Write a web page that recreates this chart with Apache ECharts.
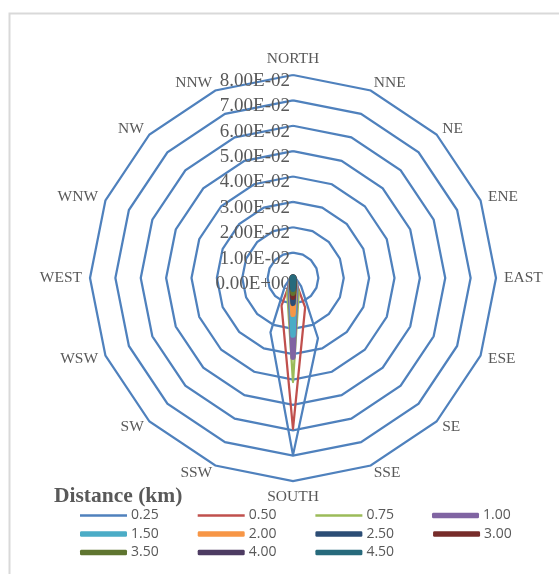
<!DOCTYPE html>
<html>
<head>
<meta charset="utf-8">
<script src="https://cdn.jsdelivr.net/npm/echarts@6/dist/echarts.min.js"></script>
<style>
html,body{margin:0;padding:0;background:#fff;}
#chart{width:559px;height:574px;}
</style>
</head>
<body>
<div id="chart"></div>
<script>
// Directions, clockwise from north
const directions = ['NORTH','NNE','NE','ENE','EAST','ESE','SE','SSE','SOUTH','SSW','SW','WSW','WEST','WNW','NW','NNW'];
// Radial tick values
const tickValues = [0, 0.01, 0.02, 0.03, 0.04, 0.05, 0.06, 0.07, 0.08];
// Distance (km) series names
const distances = ['0.25','0.50','0.75','1.00','1.50','2.00','2.50','3.00','3.50','4.00','4.50'];
// Values per distance (clockwise from NORTH)
const d025 = [0.0010,0.0008,0.0008,0.0008,0.0010,0.0015,0.0045,0.0257,0.0698,0.0232,0.0045,0.0015,0.0010,0.0008,0.0008,0.0008];
const d050 = [0.0005,0.0005,0.0005,0.0005,0.0005,0.0008,0.0012,0.0125,0.0595,0.0118,0.0012,0.0008,0.0005,0.0005,0.0005,0.0005];
const d075 = [0.0004,0.0004,0.0004,0.0004,0.0004,0.0005,0.0008,0.0060,0.0410,0.0060,0.0008,0.0005,0.0004,0.0004,0.0004,0.0004];
const d100 = [0.0003,0.0003,0.0003,0.0003,0.0003,0.0004,0.0006,0.0030,0.0312,0.0030,0.0006,0.0004,0.0003,0.0003,0.0003,0.0003];
const d150 = [0.0003,0.0003,0.0003,0.0003,0.0003,0.0003,0.0005,0.0022,0.0225,0.0022,0.0005,0.0003,0.0003,0.0003,0.0003,0.0003];
const d200 = [0.0003,0.0003,0.0003,0.0003,0.0003,0.0003,0.0004,0.0018,0.0143,0.0018,0.0004,0.0003,0.0003,0.0003,0.0003,0.0003];
const d250 = [0.0003,0.0003,0.0003,0.0003,0.0003,0.0003,0.0004,0.0015,0.0100,0.0015,0.0004,0.0003,0.0003,0.0003,0.0003,0.0003];
const d300 = [0.0003,0.0003,0.0003,0.0003,0.0003,0.0003,0.0004,0.0012,0.0076,0.0012,0.0004,0.0003,0.0003,0.0003,0.0003,0.0003];
const d350 = [0.0003,0.0003,0.0003,0.0003,0.0003,0.0003,0.0003,0.0010,0.0060,0.0010,0.0003,0.0003,0.0003,0.0003,0.0003,0.0003];
const d400 = [0.0003,0.0003,0.0003,0.0003,0.0003,0.0003,0.0003,0.0009,0.0042,0.0009,0.0003,0.0003,0.0003,0.0003,0.0003,0.0003];
const d450 = [0.0003,0.0003,0.0003,0.0003,0.0003,0.0003,0.0003,0.0008,0.0044,0.0008,0.0003,0.0003,0.0003,0.0003,0.0003,0.0003];
const seriesValues = [d025,d050,d075,d100,d150,d200,d250,d300,d350,d400,d450];

const colors = ['#4F81BD','#C0504D','#9BBB59','#8064A2','#4BACC6','#F79646','#2C4D75','#772C2A','#5F7530','#4D3B62','#276A7C'];
const thin = [true,true,true,false,false,false,false,false,false,false,false];

// ECharts radar places indicators counter-clockwise; reorder to get clockwise
const order = [0].concat(directions.map((d,i)=>i).slice(1).reverse());

function fmt(v){
  if (v === 0) return '0.00E+00';
  let e = Math.floor(Math.log10(Math.abs(v)) + 1e-9);
  let m = v / Math.pow(10, e);
  let s = e < 0 ? '-' : '+';
  let ae = Math.abs(e);
  return m.toFixed(2) + 'E' + s + (ae < 10 ? '0' + ae : ae);
}

const labelColor = '#595959';
const serif = '"Liberation Serif", "DejaVu Serif", serif';
const sans = '"Open Sans", "Liberation Sans", sans-serif';

const indicator = order.map((idx, k) => {
  const o = { name: directions[idx], min: tickValues[0], max: tickValues[tickValues.length-1] };
  if (k === 0) {
    o.axisLabel = { show: true };
  }
  return o;
});

const series = distances.map((d, i) => ({
  type: 'radar',
  name: d,
  symbol: 'none',
  silent: true,
  z: 2 + i,
  lineStyle: { color: colors[i], width: thin[i] ? 2.25 : 5.5, cap: 'round', join: 'round' },
  itemStyle: { color: colors[i] },
  data: [{ name: d, value: order.map(idx => seriesValues[i][idx]) }]
}));

function legendBlock(names, left, top, isThin) {
  return {
    orient: 'horizontal',
    left: left, top: top,
    padding: 0,
    itemWidth: 47,
    itemHeight: isThin ? 2.5 : 5.5,
    itemGap: 39,
    icon: isThin ? 'rect' : 'roundRect',
    selectedMode: false,
    textStyle: { color: labelColor, fontFamily: sans, fontSize: 14, padding: [0,0,0,-1] },
    data: names
  };
}

const option = {
  animation: false,
  backgroundColor: '#ffffff',
  graphic: [
    { type: 'rect', shape: { x: 9.5, y: 13.5, width: 600, height: 640 }, style: { fill: 'none', stroke: '#D9D9D9', lineWidth: 2 }, silent: true }
  ],
  title: {
    text: 'Distance (km)',
    left: 54, top: 485,
    padding: 0,
    textStyle: { color: labelColor, fontFamily: serif, fontSize: 21.5, fontWeight: 'bold' }
  },
  legend: [
    legendBlock(['0.25','0.50','0.75'], 80, 508.5, true),
    legendBlock(['1.00'], 432, 508.5, false),
    legendBlock(['1.50','2.00','2.50','3.00'], 80, 527, false),
    legendBlock(['3.50','4.00','4.50'], 80, 545.5, false)
  ],
  radar: {
    center: [293, 278],
    radius: 203,
    startAngle: 90,
    shape: 'polygon',
    splitNumber: tickValues.length - 1,
    indicator: indicator,
    axisName: { color: labelColor, fontFamily: serif, fontSize: 15.5 },
    nameGap: 8,
    axisLine: { show: false },
    axisTick: { show: false },
    splitArea: { show: false },
    splitLine: { lineStyle: { color: '#4F81BD', width: 2.25 } },
    axisLabel: {
      show: false,
      color: labelColor,
      fontFamily: serif,
      fontSize: 19,
      margin: 3,
      verticalAlign: 'top',
      lineHeight: 12,
      formatter: function (v) { return fmt(v); }
    }
  },
  series: series
};

const chart = echarts.init(document.getElementById('chart'), null, { renderer: 'canvas' });
chart.setOption(option);
</script>
</body>
</html>
